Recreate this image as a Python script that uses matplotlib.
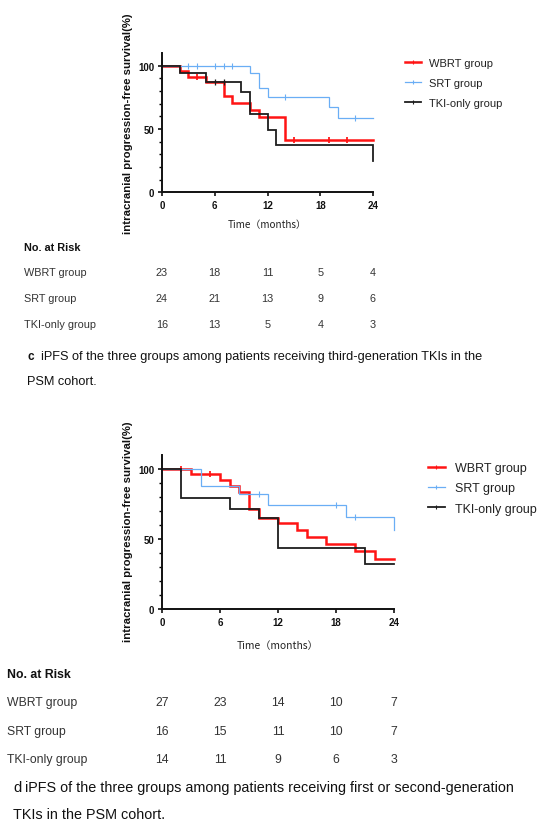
import numpy as np
import matplotlib
matplotlib.use("Agg")
import matplotlib.pyplot as plt
from matplotlib.lines import Line2D
from matplotlib.transforms import blended_transform_factory

plt.rcParams['font.family'] = ['Liberation Sans', 'DejaVu Sans']

W, H = 542, 837

# ---------------- data: panel c (third-generation TKIs) ----------------
groups = ["WBRT group", "SRT group", "TKI-only group"]
risk_times = [0, 6, 12, 18, 24]

c_wbrt_t = [0, 2, 3, 5, 7, 8, 10, 11, 14, 24]
c_wbrt_s = [100, 95.7, 91.3, 87.0, 76.0, 70.9, 65.3, 59.8, 41.6, 41.6]
c_wbrt_cens = [4, 15, 19, 21]

c_srt_t = [0, 10, 11, 12, 19, 20, 24]
c_srt_s = [100, 94.3, 82.5, 75.2, 67.0, 58.7, 58.7]
c_srt_cens = [3, 4, 6, 7, 8, 14, 22]

c_tki_t = [0, 2, 5, 9, 10, 12, 13, 24]
c_tki_s = [100, 94.0, 87.5, 79.2, 62.0, 49.5, 37.2, 25.0]
c_tki_cens = [6, 7]

c_risk_wbrt = [23, 18, 11, 5, 4]
c_risk_srt = [24, 21, 13, 9, 6]
c_risk_tki = [16, 13, 5, 4, 3]

# ---------------- data: panel d (first/second-generation TKIs) ----------------
d_wbrt_t = [0, 3, 6, 7, 8, 9, 10, 12, 14, 15, 17, 20, 22, 24]
d_wbrt_s = [100, 96.2, 92.0, 88.0, 83.3, 71.2, 65.2, 61.4, 56.2, 51.4, 46.7, 41.4, 35.5, 35.5]
d_wbrt_cens = [2, 5]

d_srt_t = [0, 4, 8, 11, 19, 24]
d_srt_s = [100, 87.9, 81.9, 74.3, 65.7, 56.4]
d_srt_cens = [10, 18, 20]

d_tki_t = [0, 2, 7, 10, 12, 21, 24]
d_tki_s = [100, 79.0, 71.7, 65.2, 43.3, 31.9, 31.9]
d_tki_cens = []

d_risk_wbrt = [27, 23, 14, 10, 7]
d_risk_srt = [16, 15, 11, 10, 7]
d_risk_tki = [14, 11, 9, 6, 3]

colors = ["#FF1414", "#6AAEF5", "#1E1E1E"]
lws = [1.8, 0.9, 1.3]

fig = plt.figure(figsize=(W / 100, H / 100), dpi=100)


def fx(x):
    return x / W


def fy(y):
    return 1 - y / H


def km_axes(left, right, y0, y100):
    ytop = y0 - (y0 - y100) * 1.10
    ax = fig.add_axes([fx(left), fy(y0), (right - left) / W, (y0 - ytop) / H])
    return ax


def step_val(t, s, x):
    idx = np.searchsorted(t, x, side='right') - 1
    return np.asarray(s)[idx]


def draw_panel(ax, curves, tick_fs):
    for (t, s, cens), col, lw in zip(curves, colors, lws):
        ax.step(t, s, where='post', color=col, lw=lw, solid_joinstyle='miter')
        if len(cens):
            cy = step_val(np.asarray(t), s, np.asarray(cens))
            ax.plot(cens, cy, ls='none', marker='|', color=col,
                    markersize=4, markeredgewidth=max(lw * 0.7, 0.8))
    ax.set_xlim(0, 24)
    ax.set_ylim(0, 110)
    ax.set_xticks(risk_times)
    ax.set_yticks([0, 50, 100])
    ax.set_yticks(np.arange(0, 101, 10), minor=True)
    for sp in ['top', 'right']:
        ax.spines[sp].set_visible(False)
    for sp in ['left', 'bottom']:
        ax.spines[sp].set_linewidth(1.4)
        ax.spines[sp].set_color('#111111')
    ax.tick_params(axis='both', which='major', length=3.2, width=1.2, pad=2.5,
                   labelsize=tick_fs, colors='#111111')
    ax.tick_params(axis='y', which='minor', length=2.0, width=1.0)
    for lab in ax.get_xticklabels() + ax.get_yticklabels():
        lab.set_fontweight('bold')
    for art in ax.lines:
        art.set_clip_on(False)


def legend(handles_lw, x, ytop, fs, hl, tp, ls):
    handles = [Line2D([], [], color=c, lw=lw, marker='|', markersize=3,
                      markeredgewidth=0.8) for c, lw in zip(colors, handles_lw)]
    fig.legend(handles, groups, loc='upper left', bbox_to_anchor=(fx(x), fy(ytop)),
               frameon=False, fontsize=fs, handlelength=hl, handletextpad=tp,
               labelspacing=ls, borderpad=0, borderaxespad=0, numpoints=1,
               labelcolor='#222222')


def risk_table(ax, rows, label_x, y_title, y_rows, fs):
    fig.text(fx(label_x), fy(y_title), "No. at Risk", fontsize=fs, fontweight='bold',
             va='center', ha='left', color='#111111')
    trans = blended_transform_factory(ax.transData, fig.transFigure)
    for name, vals, yy in zip(groups, rows, y_rows):
        fig.text(fx(label_x), fy(yy), name, fontsize=fs, va='center', ha='left',
                 color='#333333')
        for t, v in zip(risk_times, vals):
            fig.text(t, fy(yy), str(v), transform=trans, fontsize=fs, va='center',
                     ha='center', color='#333333')


# ---------------- panel c ----------------
axc = km_axes(162, 373, 193.3, 66.7)
draw_panel(axc, [(c_wbrt_t, c_wbrt_s, c_wbrt_cens),
                 (c_srt_t, c_srt_s, c_srt_cens),
                 (c_tki_t, c_tki_s, c_tki_cens)], 7)
fig.text(fx(128), fy(124), "intracranial progression-free survival(%)", rotation=90,
         fontsize=8.2, fontweight='bold', ha='center', va='center', color='#111111')
fig.text(fx(267), fy(225), "Time（months）", fontsize=7.2, ha='center', va='center',
         color='#222222', family=['Noto Sans CJK SC', 'DejaVu Sans'])
legend(lws, 405, 59, 8, 1.45, 0.7, 0.88)
risk_table(axc, [c_risk_wbrt, c_risk_srt, c_risk_tki], 24, 248, [273, 299, 325], 7.8)
fig.text(fx(27), fy(357), "c", fontsize=8.5, fontweight='bold', va='center', color='#111111')
fig.text(fx(41), fy(357), "iPFS of the three groups among patients receiving third-generation TKIs in the",
         fontsize=9.2, va='center', color='#111111')
fig.text(fx(27), fy(382), "PSM cohort.", fontsize=9.2, va='center', color='#111111')

# ---------------- panel d ----------------
axd = km_axes(162, 394, 610, 470)
draw_panel(axd, [(d_wbrt_t, d_wbrt_s, d_wbrt_cens),
                 (d_srt_t, d_srt_s, d_srt_cens),
                 (d_tki_t, d_tki_s, d_tki_cens)], 7)
fig.text(fx(128), fy(532), "intracranial progression-free survival(%)", rotation=90,
         fontsize=8.2, fontweight='bold', ha='center', va='center', color='#111111')
fig.text(fx(278), fy(646), "Time（months）", fontsize=7.4, ha='center', va='center',
         color='#222222', family=['Noto Sans CJK SC', 'DejaVu Sans'])
legend(lws, 428, 463, 9, 1.35, 0.8, 0.66)
risk_table(axd, [d_risk_wbrt, d_risk_srt, d_risk_tki], 7, 675, [703, 732, 760], 8.8)
fig.text(fx(13), fy(788), "d", fontsize=10.6, va='center', color='#111111')
fig.text(fx(25), fy(788), "iPFS of the three groups among patients receiving first or second-generation",
         fontsize=10.4, va='center', color='#111111')
fig.text(fx(13), fy(815), "TKIs in the PSM cohort.", fontsize=10.4, va='center', color='#111111')

fig.savefig("out.png", dpi=100, facecolor='white')
